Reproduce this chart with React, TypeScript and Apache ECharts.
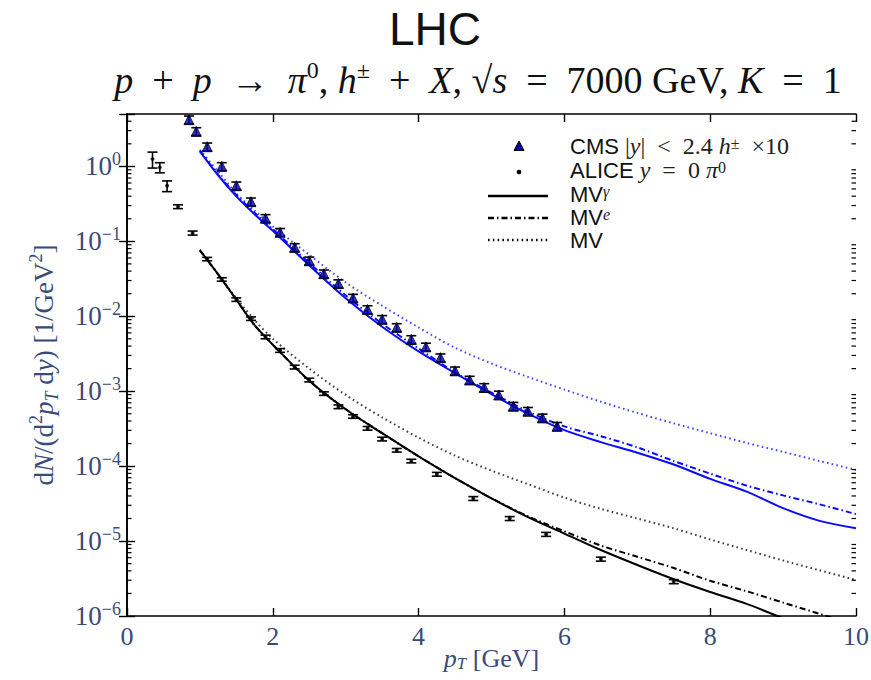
import React, { useEffect, useRef } from 'react';
import * as echarts from 'echarts';

// ---- data ----
const cmsPt = [0.85, 0.95, 1.1, 1.3, 1.5, 1.7, 1.9, 2.1, 2.3, 2.5, 2.7, 2.9, 3.1, 3.3, 3.5, 3.7, 3.9, 4.1, 4.3, 4.5, 4.7, 4.9, 5.1, 5.3, 5.5, 5.7, 5.9];
const cmsVal = [4.2, 2.93, 1.83, 1.0, 0.552, 0.338, 0.203, 0.132, 0.083, 0.055, 0.037, 0.0273, 0.0175, 0.0123, 0.0091, 0.0071, 0.0049, 0.0039, 0.0028, 0.00187, 0.00141, 0.00112, 0.00089, 0.00063, 0.00054, 0.00044, 0.00034];
const cmsErr = [0.5, 0.35, 0.22, 0.12, 0.066, 0.04, 0.024, 0.016, 0.01, 0.0066, 0.0044, 0.0033, 0.0021, 0.0015, 0.0011, 0.00085, 0.0006, 0.00047, 0.00034, 0.00023, 0.00017, 0.00014, 0.00011, 0.000078, 0.000066, 0.000054, 0.000042];

const alicePt = [0.35, 0.45, 0.55, 0.7, 0.9, 1.1, 1.3, 1.5, 1.7, 1.9, 2.1, 2.3, 2.5, 2.7, 2.9, 3.1, 3.3, 3.5, 3.7, 3.9, 4.25, 4.75, 5.25, 5.75, 6.5, 7.5];
const aliceVal = [1.25, 0.97, 0.55, 0.29, 0.129, 0.058, 0.031, 0.0167, 0.0093, 0.0053, 0.0035, 0.0021, 0.00141, 0.00093, 0.00062, 0.00046, 0.00032, 0.00023, 1.63e-4, 1.17e-4, 7.8e-5, 3.7e-5, 2.0e-5, 1.23e-5, 5.75e-6, 2.88e-6];
const aliceErr = [0.3, 0.15, 0.09, 0.017, 0.008, 0.003, 0.0016, 0.0009, 0.0005, 0.0003, 0.0002, 0.00012, 0.00008, 0.00005, 0.000035, 0.000025, 0.000018, 0.000013, 0.000009, 0.0000065, 0.0000045, 0.0000022, 0.0000012, 0.00000075, 0.00000035, 0.00000018];

const thPt = [1.0, 1.25, 1.5, 1.75, 2.0, 2.5, 3.0, 3.5, 4.0, 4.5, 5.0, 5.5, 6.0, 6.5, 7.0, 7.5, 8.0, 8.5, 9.0, 9.5, 10.0];
const cmsMVgamma = [1.585, 0.759, 0.398, 0.229, 0.138, 0.0479, 0.0174, 0.00724, 0.00339, 0.00174, 0.000912, 0.000501, 0.000302, 0.000209, 0.000151, 0.000105, 6.76e-5, 4.57e-5, 2.75e-5, 1.86e-5, 1.48e-5];
const cmsMVe = [1.62, 0.776, 0.417, 0.24, 0.145, 0.0513, 0.019, 0.00794, 0.00372, 1.78e-3, 9.55e-4, 5.37e-4, 3.39e-4, 2.51e-4, 1.78e-4, 1.17e-4, 7.94e-5, 5.5e-5, 4.07e-5, 3.09e-5, 2.29e-5];
const cmsMV = [1.66, 0.851, 0.437, 0.257, 0.158, 0.066, 0.0282, 0.0138, 0.00708, 0.0038, 0.00234, 0.00155, 0.00105, 7.24e-4, 5.13e-4, 3.72e-4, 2.75e-4, 2.04e-4, 1.55e-4, 1.17e-4, 8.9e-5];
const aliceMVgamma = [0.0759, 0.0363, 0.0166, 0.00759, 0.00417, 0.00138, 5.75e-4, 2.75e-4, 1.35e-4, 6.92e-5, 3.72e-5, 2.09e-5, 1.26e-5, 7.59e-6, 4.79e-6, 3.09e-6, 2.09e-6, 1.45e-6, 9.3e-7, null, null];
const aliceMVe = [0.0759, 0.0363, 0.0166, 0.00759, 0.00417, 0.00138, 5.75e-4, 2.75e-4, 1.35e-4, 6.92e-5, 3.72e-5, 2.14e-5, 1.35e-5, 8.71e-6, 6.17e-6, 4.37e-6, 2.95e-6, 2.14e-6, 1.51e-6, 1.07e-6, 7.6e-7];
const aliceMV = [0.0776, 0.0363, 0.0174, 0.0089, 0.00501, 0.002, 8.91e-4, 4.47e-4, 2.4e-4, 1.38e-4, 8.71e-5, 5.75e-5, 3.8e-5, 2.69e-5, 2.0e-5, 1.48e-5, 1.05e-5, 7.59e-6, 5.5e-6, 4.07e-6, 3.02e-6];

const xTicks = [0, 2, 4, 6, 8, 10];
const yDecades = [-6, -5, -4, -3, -2, -1, 0];
const yMinorMantissa = [2, 3, 4, 5, 6, 7, 8, 9];

const BLUE = '#0a0aff';
const LABEL = '#3a4a78';
const SERIF = '"Liberation Serif", "DejaVu Serif", serif';
const SANS = '"Liberation Sans", "DejaVu Sans", sans-serif';
const EN = '\u2002';

const yMinorTicks: number[] = [];
yDecades.forEach((d) => yMinorMantissa.forEach((m) => {
  const v = m * Math.pow(10, d);
  if (v < 5) yMinorTicks.push(v);
}));

const pair = (xs: number[], ys: (number | null)[]) => xs.map((x, i) => [x, ys[i] == null ? '-' : ys[i]]);

const errorBarItem = (capW: number) => (params: any, api: any) => {
  const x = api.value(0);
  const lo = api.coord([x, api.value(2)]);
  const hi = api.coord([x, api.value(3)]);
  const st = { stroke: '#000', lineWidth: 1.6 };
  return {
    type: 'group',
    children: [
      { type: 'line', shape: { x1: lo[0], y1: lo[1], x2: hi[0], y2: hi[1] }, style: st },
      { type: 'line', shape: { x1: lo[0] - capW, y1: lo[1], x2: lo[0] + capW, y2: lo[1] }, style: st },
      { type: 'line', shape: { x1: hi[0] - capW, y1: hi[1], x2: hi[0] + capW, y2: hi[1] }, style: st },
    ],
  };
};

const minorTickItem = (params: any, api: any) => {
  const v = api.value(1);
  const l = api.coord([0, v]);
  const r = api.coord([10, v]);
  const st = { stroke: '#000', lineWidth: 1.2 };
  return {
    type: 'group',
    children: [
      { type: 'line', shape: { x1: l[0], y1: l[1], x2: l[0] + 4.5, y2: l[1] }, style: st },
      { type: 'line', shape: { x1: r[0], y1: r[1], x2: r[0] - 4.5, y2: r[1] }, style: st },
    ],
  };
};

const logLabel = (v: number) => {
  const lg = Math.log10(v);
  const e = Math.round(lg);
  if (Math.abs(lg - e) > 1e-6) return '';
  return `{b|10}{s|${e < 0 ? '\u2212' + Math.abs(e) : e}}`;
};

const axisLineStyle = { lineStyle: { color: '#000', width: 1.6 } };
const tickStyle = { inside: true, length: 8, lineStyle: { color: '#000', width: 1.4 } };

const lineSeries = (name: string, ys: (number | null)[], color: string, type: any, opacity = 1) => ({
  name,
  type: 'line',
  data: pair(thPt, ys),
  showSymbol: false,
  smooth: 0.3,
  lineStyle: { color, width: 2, type, opacity },
  z: 2,
});

export default function App() {
  const ref = useRef<HTMLDivElement>(null);
  useEffect(() => {
    if (!ref.current) return;
    const chart = echarts.init(ref.current, undefined, { renderer: 'svg' });
    const dashDot = [6, 3, 1.5, 3];
    const dotted = [1.6, 3.2];
    const legendRich = {
      s: { fontFamily: SANS, fontSize: 22, fill: '#111', lineHeight: 21 },
      m: { fontFamily: SERIF, fontSize: 24, fill: '#222', lineHeight: 21 },
      mi: { fontFamily: SERIF, fontStyle: 'italic', fontSize: 24, fill: '#222', lineHeight: 21 },
      sp: { fontFamily: SERIF, fontSize: 16, fill: '#222', lineHeight: 12, verticalAlign: 'top' },
      spi: { fontFamily: SERIF, fontStyle: 'italic', fontSize: 16, fill: '#222', lineHeight: 12, verticalAlign: 'top' },
    };
    const option: any = {
      animation: false,
      backgroundColor: '#fff',
      grid: { left: 127, right: 15, top: 114, bottom: 64, containLabel: false, outerBoundsMode: 'none' },
      xAxis: [
        {
          type: 'value', min: xTicks[0], max: xTicks[xTicks.length - 1], interval: 2, position: 'bottom',
          axisLine: axisLineStyle, axisTick: tickStyle, splitLine: { show: false },
          axisLabel: { margin: 7, fontFamily: SERIF, fontSize: 26, color: LABEL },
          name: '{i|p}{sub|T}{r| [GeV]}', nameLocation: 'middle', nameGap: 28, nameMoveOverlap: false,
          nameTextStyle: {
            rich: {
              i: { fontFamily: SERIF, fontStyle: 'italic', fontSize: 26, color: LABEL, lineHeight: 28 },
              sub: { fontFamily: SERIF, fontStyle: 'italic', fontSize: 17, color: LABEL, lineHeight: 20, verticalAlign: 'bottom' },
              r: { fontFamily: SERIF, fontSize: 26, color: LABEL, lineHeight: 28 },
            },
          },
        },
        {
          type: 'value', min: xTicks[0], max: xTicks[xTicks.length - 1], interval: 2, position: 'top',
          axisLine: axisLineStyle, axisTick: tickStyle, splitLine: { show: false }, axisLabel: { show: false },
        },
      ],
      yAxis: [
        {
          type: 'log', logBase: 10, min: 1e-6, max: 5, splitNumber: 7, position: 'left',
          axisLine: axisLineStyle, axisTick: tickStyle, splitLine: { show: false },
          axisLabel: {
            formatter: logLabel, margin: 6,
            rich: {
              b: { fontFamily: SERIF, fontSize: 27, color: LABEL, lineHeight: 32 },
              s: { fontFamily: SERIF, fontSize: 18, color: LABEL, lineHeight: 18, verticalAlign: 'top' },
            },
          },
          name: '{r|d}{i|N}{r|/(d}{sup|2}{i|p}{sub|T}{r| d}{i|y}{r|) [1/GeV}{sup|2}{r|]}',
          nameLocation: 'middle', nameRotate: 90, nameGap: 66,
          nameTextStyle: {
            rich: {
              i: { fontFamily: SERIF, fontStyle: 'italic', fontSize: 27, color: LABEL, lineHeight: 34 },
              r: { fontFamily: SERIF, fontSize: 27, color: LABEL, lineHeight: 34 },
              sup: { fontFamily: SERIF, fontSize: 18, color: LABEL, lineHeight: 20, verticalAlign: 'top' },
              sub: { fontFamily: SERIF, fontStyle: 'italic', fontSize: 18, color: LABEL, lineHeight: 22, verticalAlign: 'bottom' },
            },
          },
        },
        {
          type: 'log', logBase: 10, min: 1e-6, max: 5, splitNumber: 7, position: 'right',
          axisLine: axisLineStyle, axisTick: tickStyle, splitLine: { show: false }, axisLabel: { show: false },
        },
      ],
      series: [
        {
          type: 'custom', renderItem: minorTickItem, data: yMinorTicks.map((v) => [0, v]),
          silent: true, z: 5, clip: false,
        },
        lineSeries('cms MV', cmsMV, BLUE, dotted, 0.75),
        lineSeries('cms MVe', cmsMVe, BLUE, dashDot),
        lineSeries('cms MVgamma', cmsMVgamma, BLUE, 'solid'),
        lineSeries('alice MV', aliceMV, '#000', dotted, 0.75),
        lineSeries('alice MVe', aliceMVe, '#000', dashDot),
        lineSeries('alice MVgamma', aliceMVgamma, '#000', 'solid'),
        {
          type: 'custom', renderItem: errorBarItem(5),
          data: cmsPt.map((p, i) => [p, cmsVal[i], cmsVal[i] - cmsErr[i], cmsVal[i] + cmsErr[i]]),
          encode: { x: 0, y: [1, 2, 3] }, z: 3, clip: true,
        },
        {
          type: 'custom', renderItem: errorBarItem(5),
          data: alicePt.map((p, i) => [p, aliceVal[i], aliceVal[i] - aliceErr[i], aliceVal[i] + aliceErr[i]]),
          encode: { x: 0, y: [1, 2, 3] }, z: 3, clip: true,
        },
        {
          name: 'CMS', type: 'scatter', data: pair(cmsPt, cmsVal), symbol: 'triangle', symbolSize: 10,
          itemStyle: { color: '#0000b0', borderColor: '#000', borderWidth: 1 }, z: 4,
        },
        {
          name: 'ALICE', type: 'scatter', data: pair(alicePt, aliceVal), symbol: 'circle', symbolSize: 4,
          itemStyle: { color: '#000' }, z: 4,
        },
      ],
      graphic: [
        {
          type: 'text', x: 435, y: 29,
          style: { text: 'LHC', fontFamily: SANS, fontSize: 46, fill: '#111', align: 'center', verticalAlign: 'middle' },
        },
        {
          type: 'text', x: 478, y: 80,
          style: {
            text: `{i|p}{r|${EN}+${EN}}{i|p}{r|${EN}\u2192${EN}}{i|\u03c0}{sp|0}{r|, }{i|h}{sp|\u00b1}{r|${EN}+${EN}}{i|X}{r|, \u221a}{i|s}{r|${EN}=${EN}7000 GeV, }{i|K}{r|${EN}=${EN}1}`,
            align: 'center', verticalAlign: 'middle',
            rich: {
              i: { fontFamily: SERIF, fontStyle: 'italic', fontSize: 38, fill: '#111', lineHeight: 44 },
              r: { fontFamily: SERIF, fontSize: 38, fill: '#111', lineHeight: 44 },
              sp: { fontFamily: SERIF, fontSize: 24, fill: '#111', lineHeight: 26, verticalAlign: 'top' },
            },
          },
        },
        // legend
        {
          type: 'polygon', shape: { points: [[519, 141], [524, 150.5], [514, 150.5]] },
          style: { fill: '#0000b0', stroke: '#000', lineWidth: 1 },
        },
        { type: 'circle', shape: { cx: 519, cy: 172, r: 2.3 }, style: { fill: '#000' } },
        { type: 'line', shape: { x1: 488, y1: 196, x2: 548, y2: 196 }, style: { stroke: '#000', lineWidth: 2.5 } },
        { type: 'line', shape: { x1: 488, y1: 218, x2: 548, y2: 218 }, style: { stroke: '#000', lineWidth: 2.5, lineDash: dashDot } },
        { type: 'line', shape: { x1: 488, y1: 240, x2: 548, y2: 240 }, style: { stroke: '#000', lineWidth: 2.5, lineDash: dotted } },
        {
          type: 'text', x: 570, y: 146,
          style: {
            text: `{s|CMS }{m||}{mi|y}{m||${EN}<${EN}2.4 }{mi|h}{sp|\u00b1}{m|${EN}\u00d710}`, verticalAlign: 'middle',
            rich: legendRich,
          },
        },
        {
          type: 'text', x: 570, y: 170,
          style: { text: `{s|ALICE }{mi|y}{m|${EN}=${EN}0 }{mi|\u03c0}{sp|0}`, verticalAlign: 'middle', rich: legendRich },
        },
        {
          type: 'text', x: 570, y: 194,
          style: { text: '{s|MV}{spi|\u03b3}', verticalAlign: 'middle', rich: legendRich },
        },
        {
          type: 'text', x: 570, y: 217,
          style: { text: '{s|MV}{spi|e}', verticalAlign: 'middle', rich: legendRich },
        },
        {
          type: 'text', x: 570, y: 240,
          style: { text: 'MV', fontFamily: SANS, fontSize: 22, fill: '#111', verticalAlign: 'middle' },
        },
      ],
    };
    chart.setOption(option);
    return () => chart.dispose();
  }, []);
  return <div ref={ref} style={{ position: 'fixed', left: 0, top: 0, width: 871, height: 680, background: '#fff' }} />;
}
